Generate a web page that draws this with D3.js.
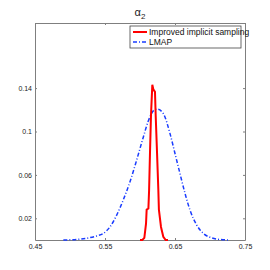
<!DOCTYPE html>
<html>
<head>
<meta charset="utf-8">
<script src="https://cdn.jsdelivr.net/npm/d3@7"></script>
<style>
  body { margin: 0; background: #fff; }
  text { font-family: "Liberation Sans", Arial, sans-serif; }
</style>
</head>
<body>
<div id="chart"></div>
<script>
// Data
const xTicks = [0.45, 0.55, 0.65, 0.75];
const yTicks = [0.02, 0.06, 0.1, 0.14];
const xTickLabels = ["0.45", "0.55", "0.65", "0.75"];
const yTickLabels = ["0.02", "0.06", "0.1", "0.14"];

const seriesNames = ["Improved implicit sampling", "LMAP"];

// improved implicit sampling (red)
const iisX = [0.600, 0.6033, 0.6062, 0.6086, 0.6095, 0.612, 0.613, 0.6143, 0.6157, 0.6176,
              0.619, 0.6214, 0.6224, 0.6243, 0.6262, 0.627, 0.630, 0.6333, 0.6367, 0.640];
const iisY = [0, 0, 0.002, 0.015, 0.028, 0.029, 0.046, 0.081, 0.115, 0.143,
              0.139, 0.1365, 0.115, 0.081, 0.046, 0.028, 0.012, 0.003, 0, 0];

// LMAP (blue, dash-dot)
const lmapX = [0.4905, 0.51, 0.5238, 0.538, 0.5476, 0.557, 0.5667, 0.576, 0.5857, 0.5952,
               0.6048, 0.612, 0.6214, 0.625, 0.6333, 0.6429, 0.65, 0.6571, 0.6643, 0.6714,
               0.681, 0.6905, 0.70, 0.71, 0.726];
const lmapY = [0, 0.0005, 0.0016, 0.0037, 0.006, 0.012, 0.023, 0.0368, 0.0537, 0.0736,
               0.095, 0.110, 0.1202, 0.1205, 0.1165, 0.098, 0.0797, 0.0613, 0.043, 0.0276,
               0.0138, 0.006, 0.0025, 0.0008, 0];

const W = 270, H = 270;
const margin = { top: 23, right: 25, bottom: 30, left: 35 };
const width = W - margin.left - margin.right;
const height = H - margin.top - margin.bottom;

const svg = d3.select("#chart")
    .append("svg")
    .attr("width", W)
    .attr("height", H)
    .append("g")
    .attr("transform", `translate(${margin.left},${margin.top})`);

const x = d3.scaleLinear().domain([0.45, 0.75]).range([0, width]);
const y = d3.scaleLinear().domain([0, 0.2]).range([height, 0]);

const axisColor = "#7f7f7f";
const tickLen = 2;

// Axes (ticks pointing inward, MATLAB style)
const styleAxis = function(g) {
    g.select(".domain").attr("stroke", axisColor);
    g.selectAll(".tick line").attr("stroke", axisColor);
    g.selectAll(".tick text").attr("fill", "#222").style("font-size", "7px");
};

svg.append("g")
    .attr("transform", `translate(0,${height})`)
    .call(d3.axisBottom(x).tickValues(xTicks).tickSize(-tickLen).tickSizeOuter(0)
        .tickPadding(4).tickFormat((d, i) => xTickLabels[i]))
    .call(styleAxis);

svg.append("g")
    .call(d3.axisTop(x).tickValues(xTicks).tickSize(-tickLen).tickSizeOuter(0).tickFormat(""))
    .call(styleAxis);

svg.append("g")
    .call(d3.axisLeft(y).tickValues(yTicks).tickSize(-tickLen).tickSizeOuter(0)
        .tickPadding(3).tickFormat((d, i) => yTickLabels[i]))
    .call(styleAxis);

svg.append("g")
    .attr("transform", `translate(${width},0)`)
    .call(d3.axisRight(y).tickValues(yTicks).tickSize(-tickLen).tickSizeOuter(0).tickFormat(""))
    .call(styleAxis);

// Lines
const lmapData = lmapX.map((v, i) => ({ x: v, y: lmapY[i] }));
const iisData = iisX.map((v, i) => ({ x: v, y: iisY[i] }));

const line = d3.line()
    .x(d => x(d.x))
    .y(d => y(d.y))
    .curve(d3.curveMonotoneX);

svg.append("path")
    .datum(lmapData)
    .attr("fill", "none")
    .attr("stroke", "#1a3cff")
    .attr("stroke-width", 1.5)
    .attr("stroke-dasharray", "4,2,1,2")
    .attr("d", line);

svg.append("path")
    .datum(iisData)
    .attr("fill", "none")
    .attr("stroke", "#ff0000")
    .attr("stroke-width", 2)
    .attr("d", d3.line().x(d => x(d.x)).y(d => y(d.y)));

// Title
const title = svg.append("text")
    .attr("x", width / 2)
    .attr("y", -7)
    .attr("text-anchor", "middle")
    .style("font-size", "11px")
    .attr("fill", "#222");
title.append("tspan").text("α");
title.append("tspan").attr("dy", 3).style("font-size", "8px").text("2");

// Legend
const legend = svg.append("g")
    .attr("transform", `translate(${x(0.45) + 95},3)`);

legend.append("rect")
    .attr("x", 0)
    .attr("y", 0)
    .attr("width", 111)
    .attr("height", 22)
    .attr("fill", "#fff")
    .attr("stroke", "#444")
    .attr("stroke-width", 0.8);

const legendStyles = [
    { color: "#ff0000", width: 2, dash: null },
    { color: "#1a3cff", width: 1.5, dash: "4,2,1,2" }
];

seriesNames.forEach((name, i) => {
    legend.append("line")
        .attr("x1", 3)
        .attr("x2", 17)
        .attr("y1", 6 + i * 10)
        .attr("y2", 6 + i * 10)
        .attr("stroke", legendStyles[i].color)
        .attr("stroke-width", legendStyles[i].width)
        .attr("stroke-dasharray", legendStyles[i].dash);

    legend.append("text")
        .attr("x", 19)
        .attr("y", 6 + i * 10)
        .attr("dy", "0.35em")
        .style("font-size", "8.5px")
        .attr("fill", "#111")
        .text(name);
});
</script>
</body>
</html>
